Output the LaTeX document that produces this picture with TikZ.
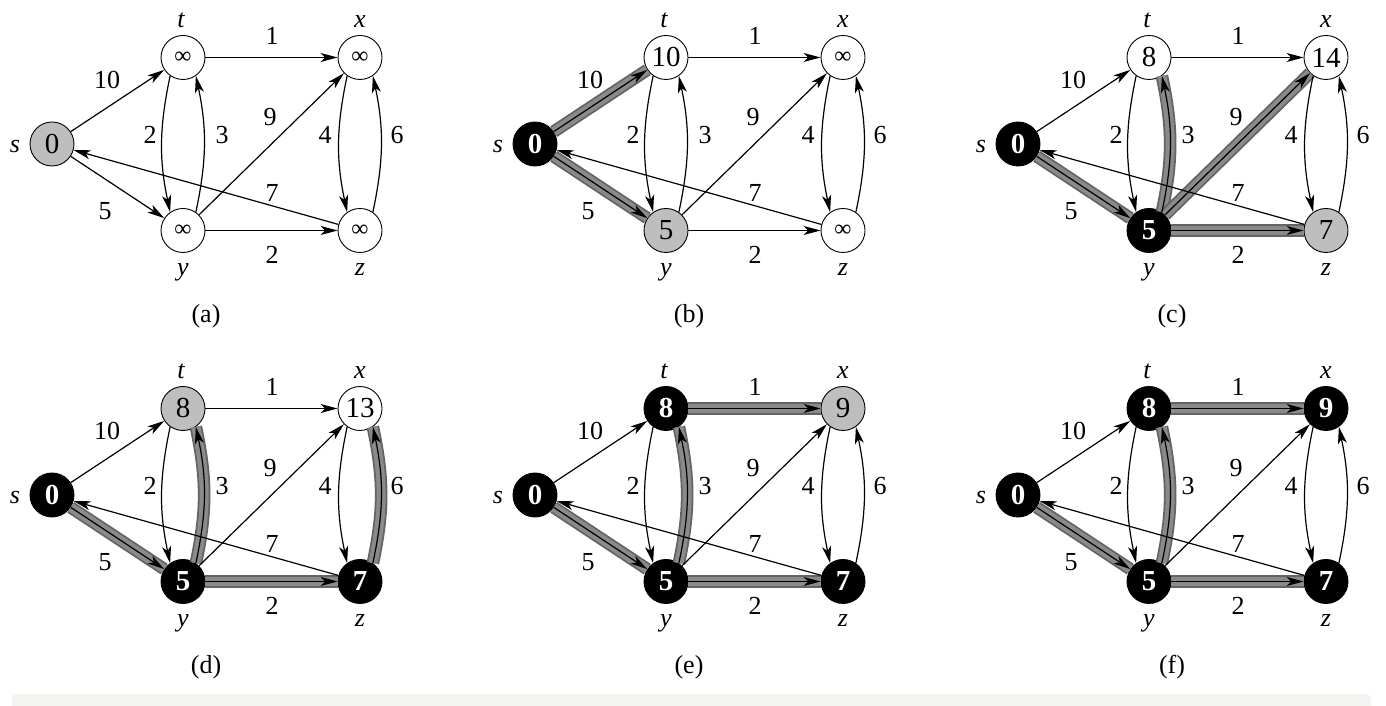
\documentclass[tikz,border=0pt]{standalone}
\usepackage{fontspec}
\setmainfont{Liberation Serif}
\usetikzlibrary{arrows.meta}
\definecolor{nodegray}{RGB}{190,190,190}
\definecolor{bandout}{RGB}{100,100,100}
\definecolor{bandin}{RGB}{138,138,138}
\definecolor{barfill}{RGB}{243,243,240}
\newcommand\myNumFont{\fontsize{29}{31}\selectfont}
\newcommand\myNumFontB{\fontsize{29}{31}\selectfont\bfseries}
\newcommand\myInfFont{\fontsize{24}{26}\selectfont}
\newcommand\myLabFont{\fontsize{26}{28}\selectfont\itshape}
\newcommand\myEdgeFont{\fontsize{26}{28}\selectfont}
% edge paths, #1 = panel prefix
\newcommand\Est[1]{(#1s) -- (#1t)}
\newcommand\Esy[1]{(#1s) -- (#1y)}
\newcommand\Etx[1]{(#1t) -- (#1x)}
\newcommand\Eyz[1]{(#1y) -- (#1z)}
\newcommand\Eyx[1]{(#1y) -- (#1x)}
\newcommand\Ezs[1]{(#1z) -- (#1s)}
\newcommand\Ety[1]{(#1t.-125) to[out=-102,in=102] (#1y.125)}
\newcommand\Eyt[1]{(#1y.55) to[out=78,in=-78] (#1t.-55)}
\newcommand\Exz[1]{(#1x.-125) to[out=-102,in=102] (#1z.125)}
\newcommand\Ezx[1]{(#1z.55) to[out=78,in=-78] (#1x.-55)}
\newcommand\Enone[1]{(#1s)}
\newcommand\myInf{{\myInfFont ∞}}
\tikzset{
  wn/.style={circle, draw, line width=0.9pt, fill=white, minimum size=44pt, inner sep=0pt, font=\myNumFont},
  gn/.style={wn, fill=nodegray},
  bn/.style={wn, fill=black, text=white, font=\myNumFontB},
  vlab/.style={anchor=base, inner sep=0pt, font=\myLabFont},
  elab/.style={inner sep=0pt, font=\myEdgeFont},
  captext/.style={inner sep=0pt, font=\myEdgeFont},
  conn/.style={draw=black, line width=1.2pt, -{Stealth[length=17pt,width=9pt,inset=4.5pt]}},
  hlband/.style={draw=bandout, double=bandin, line width=1.8pt, double distance=9pt, -},
}
% #1 prefix, #2 dx, #3 dy, #4 caption, #5 highlighted edges
\newcommand\dpanel[5]{%
\begin{scope}[shift={(#2,#3)}]
  \node[\Ss] (#1s) at (52,562) {\Sv};
  \node[\Ts] (#1t) at (183,648.5) {\Tv};
  \node[\Xs] (#1x) at (360,648.5) {\Xv};
  \node[\Ys] (#1y) at (183,475.5) {\Yv};
  \node[\Zs] (#1z) at (360,475.5) {\Zv};
  \node[vlab] (#1Ls) at (15,553) {s};
  \node[vlab] (#1Lt) at (181,678) {t};
  \node[vlab] (#1Lx) at (360,678) {x};
  \node[vlab] (#1Ly) at (183,430) {y};
  \node[vlab] (#1Lz) at (360,430) {z};
  \node[elab] (#1Wst) at (107,626) {10};
  \node[elab] (#1Wtx) at (272,670) {1};
  \node[elab] (#1Wty) at (150,571) {2};
  \node[elab] (#1Wyt) at (222,571) {3};
  \node[elab] (#1Wyx) at (270,589) {9};
  \node[elab] (#1Wxz) at (325,571) {4};
  \node[elab] (#1Wzx) at (397,571) {6};
  \node[elab] (#1Wzs) at (272,513) {7};
  \node[elab] (#1Wsy) at (105,495) {5};
  \node[elab] (#1Wyz) at (272,451) {2};
  \node[captext] (#1cap) at (206,390) {(#4)};
  \foreach \e in {#5} {%
    \expandafter\let\expandafter\curE\csname E\e\endcsname
    \draw[hlband] \curE{#1};}
  \foreach \e in {st,sy,tx,yz,yx,zs,ty,yt,xz,zx} {%
    \expandafter\let\expandafter\curE\csname E\e\endcsname
    \draw[conn] \curE{#1};}
\end{scope}}
\begin{document}
\begin{tikzpicture}[x=1pt,y=1pt]
  \useasboundingbox (0,0) rectangle (1386,706);
  \fill[white] (0,0) rectangle (1386,706);
  \fill[barfill, rounded corners=5pt] (12,-8) rectangle (1371,12);
  % (a)
  \def\Ss{gn}\def\Sv{0}\def\Ts{wn}\def\Tv{\myInf}\def\Xs{wn}\def\Xv{\myInf}\def\Ys{wn}\def\Yv{\myInf}\def\Zs{wn}\def\Zv{\myInf}
  \dpanel{a}{0}{0}{a}{none}
  % (b)
  \def\Ss{bn}\def\Sv{0}\def\Ts{wn}\def\Tv{10}\def\Xs{wn}\def\Xv{\myInf}\def\Ys{gn}\def\Yv{5}\def\Zs{wn}\def\Zv{\myInf}
  \dpanel{b}{483}{0}{b}{st,sy}
  % (c)
  \def\Ss{bn}\def\Sv{0}\def\Ts{wn}\def\Tv{8}\def\Xs{wn}\def\Xv{14}\def\Ys{bn}\def\Yv{5}\def\Zs{gn}\def\Zv{7}
  \dpanel{c}{966}{0}{c}{sy,yt,yx,yz}
  % (d)
  \def\Ss{bn}\def\Sv{0}\def\Ts{gn}\def\Tv{8}\def\Xs{wn}\def\Xv{13}\def\Ys{bn}\def\Yv{5}\def\Zs{bn}\def\Zv{7}
  \dpanel{d}{0}{-351}{d}{sy,yt,yz,zx}
  % (e)
  \def\Ss{bn}\def\Sv{0}\def\Ts{bn}\def\Tv{8}\def\Xs{gn}\def\Xv{9}\def\Ys{bn}\def\Yv{5}\def\Zs{bn}\def\Zv{7}
  \dpanel{e}{483}{-351}{e}{sy,yt,yz,tx}
  % (f)
  \def\Ss{bn}\def\Sv{0}\def\Ts{bn}\def\Tv{8}\def\Xs{bn}\def\Xv{9}\def\Ys{bn}\def\Yv{5}\def\Zs{bn}\def\Zv{7}
  \dpanel{f}{966}{-351}{f}{sy,yt,yz,tx}
\end{tikzpicture}
\end{document}
